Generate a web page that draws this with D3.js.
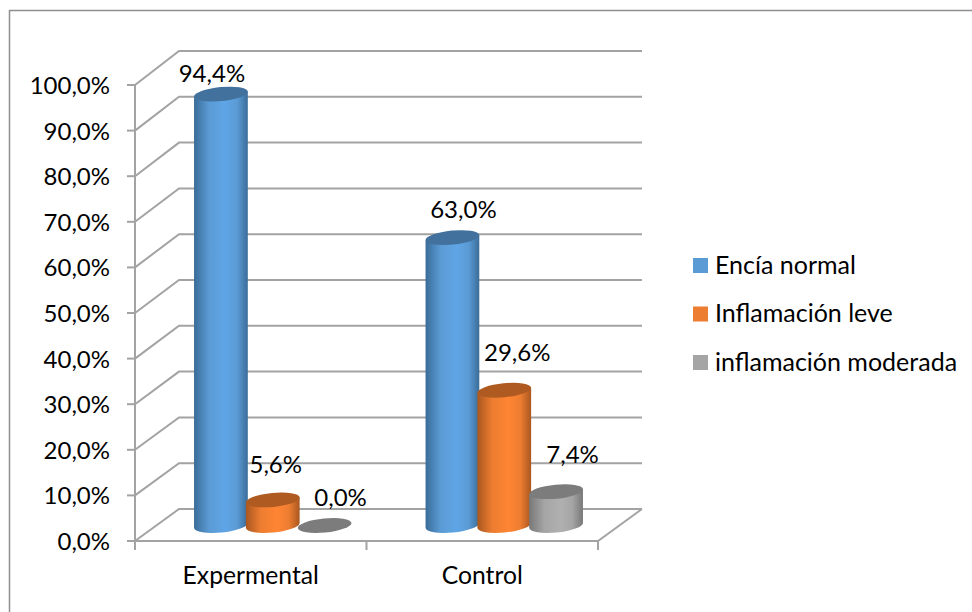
<!DOCTYPE html>
<html>
<head>
<meta charset="utf-8">
<script src="https://cdn.jsdelivr.net/npm/d3@7/dist/d3.min.js"></script>
<style>
html, body { margin: 0; padding: 0; background: #fff; }
svg { display: block; }
text { font-family: Lato, "Open Sans", sans-serif; fill: #000; }
</style>
</head>
<body>
<svg id="chart" width="972" height="612"></svg>
<script>
// Chart data
const categories = ["Expermental", "Control"];
const seriesNames = ["Encía normal", "Inflamación leve", "inflamación moderada"];
const experimentalValues = [94.4, 5.6, 0.0];
const controlValues = [63.0, 29.6, 7.4];
const tickValues = d3.range(0, 101, 10);
const tickLabels = tickValues.map(v => v.toFixed(1).replace(".", ",") + "%");
const seriesFills = ["#5b9bd5", "#ed7d31", "#a5a5a5"];
const seriesTops = ["#41719c", "#ae5a21", "#7c7c7c"];
const seriesLights = ["#5fa5e6", "#ff8533", "#b0b0b0"];
const seriesEdges = ["#3a6c99", "#a95720", "#787878"];

const svg = d3.select("#chart");
const gridColor = "#a3a3a3";

// Oblique box: front axis plane, back wall plane, and the cylinder baseline between them
const x0 = 135, x1 = 598, depthX = 44;
const yFront = d3.scaleLinear().domain([0, 100]).range([541, 85]);
const yBack = d3.scaleLinear().domain([0, 100]).range([509, 51]);
const yBar = d3.scaleLinear().domain([0, 100]).range([525.5, 68.5]);
const xCat = d3.scaleBand().domain(categories).range([x0, x1]);
const xSeries = d3.scaleBand().domain(d3.range(3)).range([60, 215.5]);

// Outer chart frame, open to the right and bottom edges of the page
svg.append("path")
  .attr("d", "M972,10.5H9.5V612")
  .attr("fill", "none").attr("stroke", "#8f8f8f").attr("stroke-width", 1.5);

// Gridlines on the back wall, joined to the axis along the side wall
const grid = svg.append("g").attr("fill", "none").attr("stroke", gridColor).attr("stroke-width", 2);
tickValues.forEach(v => {
  grid.append("path").attr("d", d3.line()([
    [x0, yFront(v)], [x0 + depthX, yBack(v)], [x1 + depthX, yBack(v)]
  ]));
});
// Floor edges and front axis lines
grid.append("path").attr("d", d3.line()([
  [x1 + depthX, yBack(0)], [x1, yFront(0)], [x0, yFront(0)]
]));
grid.append("path").attr("d", d3.line()([[x0, yFront(100)], [x0, yFront(0)]]));

// Tick marks on both axes
tickValues.forEach(v => {
  grid.append("path").attr("d", d3.line()([[x0 - 8, yFront(v)], [x0, yFront(v)]]));
});
[x0, ...categories.map(c => xCat(c) + xCat.bandwidth())].forEach(x => {
  grid.append("path").attr("d", d3.line()([[x, yFront(0)], [x, yFront(0) + 9]]));
});

// Value-axis labels
svg.append("g").selectAll("text").data(tickValues).join("text")
  .attr("x", 110).attr("y", d => yFront(d) + 9)
  .attr("text-anchor", "end").attr("font-size", 24)
  .text((d, i) => tickLabels[i]);

// Category labels
svg.append("g").selectAll("text").data(categories).join("text")
  .attr("x", c => xCat(c) + xCat.bandwidth() / 2).attr("y", 584)
  .attr("text-anchor", "middle").attr("font-size", 24.7)
  .text(d => d);

// Horizontal shading across each cylinder
const defs = svg.append("defs");
seriesFills.forEach((c, i) => {
  const g = defs.append("linearGradient").attr("id", "cyl" + i);
  [[0, seriesEdges[i]], [0.28, c], [0.58, seriesLights[i]], [0.8, c], [1, seriesEdges[i]]]
    .forEach(([o, col]) => g.append("stop").attr("offset", o).attr("stop-color", col));
});

// Cylinders: a side wall with a tilted elliptical base, and a tilted cap
const rx = 27, ry = 7, tilt = 5.5;
const dx = rx * Math.cos(tilt * Math.PI / 180), dy = rx * Math.sin(tilt * Math.PI / 180);
const rows = [experimentalValues, controlValues];
const bars = svg.append("g");
categories.forEach((c, ci) => {
  rows[ci].forEach((v, si) => {
    const cx = xCat(c) + xSeries(si) + xSeries.bandwidth() / 2;
    const top = yBar(v), base = yBar(0);
    if (v > 0) {
      bars.append("path")
        .attr("d", `M${cx - dx},${top + dy}L${cx - dx},${base + dy}` +
                   `A${rx},${ry} ${-tilt} 0 0 ${cx + dx},${base - dy}L${cx + dx},${top - dy}Z`)
        .attr("fill", `url(#cyl${si})`);
    }
    bars.append("ellipse")
      .attr("cx", cx).attr("cy", top).attr("rx", rx).attr("ry", ry)
      .attr("transform", `rotate(${-tilt} ${cx} ${top})`)
      .attr("fill", seriesTops[si]);
  });
});

// Data labels, each nudged from the top of its own cylinder
const labelShifts = [
  [[-9, -12], [3, -27], [16, -20]],
  [[11, -20], [13, -29], [16.5, -29]]
];
const labels = svg.append("g");
categories.forEach((c, ci) => {
  rows[ci].forEach((v, si) => {
    const cx = xCat(c) + xSeries(si) + xSeries.bandwidth() / 2;
    labels.append("text")
      .attr("x", cx + labelShifts[ci][si][0]).attr("y", yBar(v) + labelShifts[ci][si][1])
      .attr("text-anchor", "middle").attr("font-size", 24)
      .text(v.toFixed(1).replace(".", ",") + "%");
  });
});

// Legend
const legend = svg.append("g");
seriesNames.forEach((name, i) => {
  const y = 258 + i * 48.5;
  legend.append("rect").attr("x", 693).attr("y", y).attr("width", 15).attr("height", 15).attr("fill", seriesFills[i]);
  legend.append("text").attr("x", 715).attr("y", y + 15.5).attr("font-size", 25).text(name);
});
</script>
</body>
</html>
